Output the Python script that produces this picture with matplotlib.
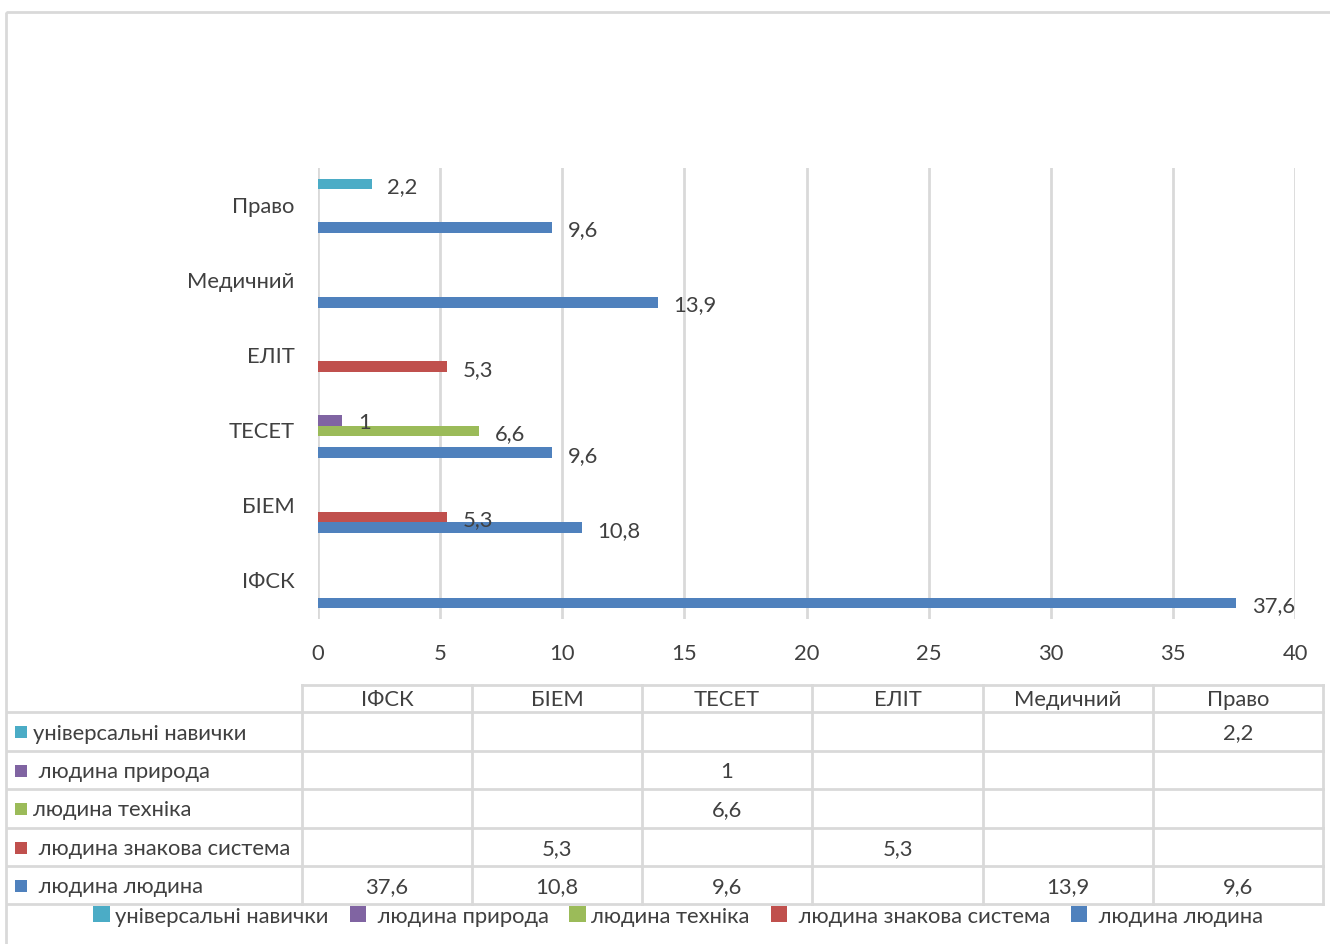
import matplotlib
matplotlib.use("Agg")
import matplotlib.pyplot as plt
from matplotlib.patches import Rectangle

plt.rcParams['font.family'] = ['Lato', 'DejaVu Sans']

# ---- data -------------------------------------------------------------
categories = ["ІФСК", "БІЕМ", "ТЕСЕТ", "ЕЛІТ", "Медичний", "Право"]
series_names = ["універсальні навички", " людина природа", "людина техніка",
                " людина знакова система", " людина людина"]
universal = [None, None, None, None, None, 2.2]
nature = [None, None, 1.0, None, None, None]
technics = [None, None, 6.6, None, None, None]
sign_system = [None, 5.3, None, 5.3, None, None]
human = [37.6, 10.8, 9.6, None, 13.9, 9.6]
series_values = [universal, nature, technics, sign_system, human]
colors = ["#4BACC6", "#8064A2", "#9BBB59", "#C0504D", "#4F81BD"]
x_ticks = [0, 5, 10, 15, 20, 25, 30, 35, 40]

TEXT = "#404040"
GRID = "#D9D9D9"
FS = 15.8
W, H = 1330, 945


def fmt(v):
    s = f"{v:.1f}".rstrip("0").rstrip(".")
    return s.replace(".", ",")


fig = plt.figure(figsize=(W / 100, H / 100), dpi=100)

# overlay in pixel coordinates for frame, table and legend
ov = fig.add_axes([0, 0, 1, 1])
ov.set_xlim(0, W)
ov.set_ylim(H, 0)
ov.axis("off")
ov.add_patch(Rectangle((6, 13), W + 20, H + 20, fill=False, ec="#D9D9D9", lw=2))

# ---- bar chart ----------------------------------------------------------
px_left, px_right, px_top, px_bot = 318, 1295, 169, 620
ax = fig.add_axes([px_left / W, 1 - px_bot / H, (px_right - px_left) / W,
                   (px_bot - px_top) / H])
ax.set_xlim(0, 40)
ax.set_ylim(-0.5, len(categories) - 0.5)
bar_h = 0.144
n = len(series_names)
for i, (vals, c) in enumerate(zip(series_values, colors)):
    # first series sits highest inside each group
    offset = ((n - 1) / 2 - i) * bar_h
    for j, v in enumerate(vals):
        if v is None:
            continue
        y = j + offset
        ax.barh(y, v, height=bar_h, color=c, edgecolor="none", zorder=3)
        ax.annotate(fmt(v), (v, y), xytext=(11, -1.5), textcoords="offset points",
                    va="center", ha="left", fontsize=FS, color=TEXT, zorder=4)

ax.set_xticks(x_ticks)
ax.set_xticklabels([str(t) for t in x_ticks])
ax.set_yticks(range(len(categories)))
ax.set_yticklabels(categories)
ax.tick_params(axis="both", length=0, labelsize=FS, labelcolor=TEXT)
ax.tick_params(axis="x", pad=17)
ax.tick_params(axis="y", pad=17)
for lab in ax.get_yticklabels():
    lab.set_verticalalignment("center")
ax.xaxis.grid(True, color=GRID, lw=2, zorder=0)
for s in ax.spines.values():
    s.set_visible(False)
ax.set_facecolor("none")

# ---- data table ---------------------------------------------------------
col_x = [302, 472, 642, 812, 983, 1153, 1323]
row_y = [686, 713, 752, 790, 829, 867, 905]
lab_x0 = 8
ov.plot([col_x[0], col_x[-1]], [row_y[0], row_y[0]], color=GRID, lw=2)
for yy in row_y[1:]:
    ov.plot([lab_x0, col_x[-1]], [yy, yy], color=GRID, lw=2)
for xx in col_x:
    ov.plot([xx, xx], [row_y[0], row_y[-1]], color=GRID, lw=2)
for j, cat in enumerate(categories):
    ov.text((col_x[j] + col_x[j + 1]) / 2, (row_y[0] + row_y[1]) / 2 + 1, cat,
            ha="center", va="center", fontsize=FS, color=TEXT)
for r, (name, vals, c) in enumerate(zip(series_names, series_values, colors)):
    yc = (row_y[r + 1] + row_y[r + 2]) / 2 + 1
    ov.add_patch(Rectangle((15, yc - 6.5), 12, 12, color=c, lw=0))
    ov.text(33, yc, name, ha="left", va="center", fontsize=FS, color=TEXT)
    for j, v in enumerate(vals):
        if v is None:
            continue
        ov.text((col_x[j] + col_x[j + 1]) / 2, yc, fmt(v), ha="center",
                va="center", fontsize=FS, color=TEXT)

# ---- legend -------------------------------------------------------------
handles = [Rectangle((0, 0), 1, 1, color=c, lw=0) for c in colors]
fig.legend(handles, series_names, loc="center", ncol=5,
           bbox_to_anchor=(678 / W, 1 - 917 / H), frameon=False,
           fontsize=FS, labelcolor=TEXT, handlelength=0.75, handleheight=0.75,
           handletextpad=0.25, columnspacing=0.95, borderpad=0)

fig.savefig("out.png", dpi=100)
